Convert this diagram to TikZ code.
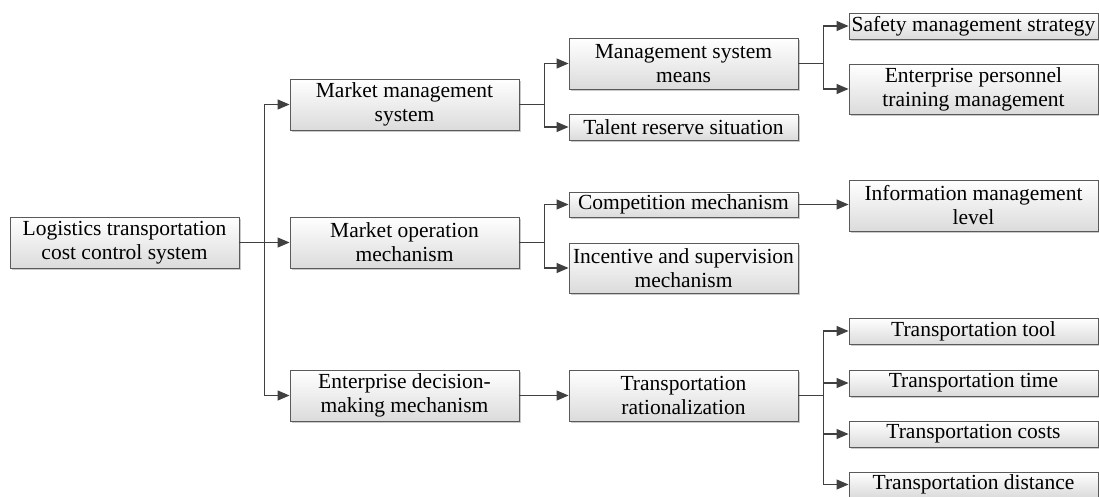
\documentclass[tikz,border=0pt]{standalone}
\usepackage{fontspec}
\setmainfont{Liberation Serif}
\usetikzlibrary{arrows.meta,shadows}
\definecolor{edge}{HTML}{404040}
\definecolor{frame}{HTML}{5A5A5A}
\tikzset{
  box/.style={draw=frame, line width=0.9pt, top color=white, bottom color=black!14,
    drop shadow={shadow xshift=2pt, shadow yshift=-2pt, fill=black!35, opacity=0.6},
    align=center, inner sep=0pt, font=\fontsize{21.5}{24}\selectfont},
  wbox/.style={box, minimum width=229pt},
  xbox/.style={box, minimum width=249pt},
  conn/.style={draw=edge, line width=1.2pt, -{Triangle[length=12pt,width=10pt]}},
  link/.style={draw=edge, line width=1.2pt}
}
\begin{document}
\begin{tikzpicture}[x=1pt,y=-1pt]
\useasboundingbox (0,0) rectangle (1099,496);

% root
\node[wbox, minimum height=51pt] (root) at (124.5,242.5) {Logistics transportation\\cost control system};

% first level
\node[wbox, minimum height=51pt] (mms) at (404.5,104.5) {Market management\\system};
\node[wbox, minimum height=51pt] (mom) at (404.5,242.5) {Market operation\\mechanism};
\node[wbox, minimum height=51pt] (edm) at (404.5,395.5) {Enterprise decision-\\making mechanism};

% second level
\node[wbox, minimum height=51pt] (msm) at (683.5,63.5) {Management system\\means};
\node[wbox, minimum height=26pt] (trs) at (683.5,127) {Talent reserve situation};
\node[wbox, minimum height=25pt] (cmp) at (683.5,204.5) {Competition mechanism};
\node[wbox, minimum height=50pt] (isp) at (683.5,268) {Incentive and supervision\\mechanism};
\node[wbox, minimum height=51pt] (trz) at (683.5,395.5) {Transportation\\rationalization};

% third level
\node[xbox, minimum height=26pt] (sms) at (973.5,26) {Safety management strategy};
\node[xbox, minimum height=50pt] (ept) at (973.5,89) {Enterprise personnel\\training management};
\node[xbox, minimum height=51pt] (iml) at (973.5,205.5) {Information management\\level};
\node[xbox, minimum height=26pt] (ttl) at (973.5,331) {Transportation tool};
\node[xbox, minimum height=26pt] (tti) at (973.5,383) {Transportation time};
\node[xbox, minimum height=26pt] (tco) at (973.5,434) {Transportation costs};
\node[xbox, minimum height=25pt] (tds) at (973.5,484.5) {Transportation distance};

% connectors
\draw[link] (root.east) -- ++(25,0) coordinate (b0);
\draw[conn] (b0) |- (mms.west);
\draw[conn] (b0) -- (mom.west);
\draw[conn] (b0) |- (edm.west);

\draw[link] (mms.east) -- ++(25,0) coordinate (b1);
\draw[conn] (b1) |- (msm.west);
\draw[conn] (b1) |- (trs.west);

\draw[link] (mom.east) -- ++(25,0) coordinate (b2);
\draw[conn] (b2) |- (cmp.west);
\draw[conn] (b2) |- (isp.west);

\draw[conn] (edm.east) -- (trz.west);

\draw[link] (msm.east) -- ++(25,0) coordinate (b3);
\draw[conn] (b3) |- (sms.west);
\draw[conn] (b3) |- (ept.west);

\draw[conn] (cmp.east) -- (cmp.east -| iml.west);

\draw[link] (trz.east) -- ++(25,0) coordinate (b4);
\draw[conn] (b4) |- (ttl.west);
\draw[conn] (b4) |- (tti.west);
\draw[conn] (b4) |- (tco.west);
\draw[conn] (b4) |- (tds.west);
\end{tikzpicture}
\end{document}
